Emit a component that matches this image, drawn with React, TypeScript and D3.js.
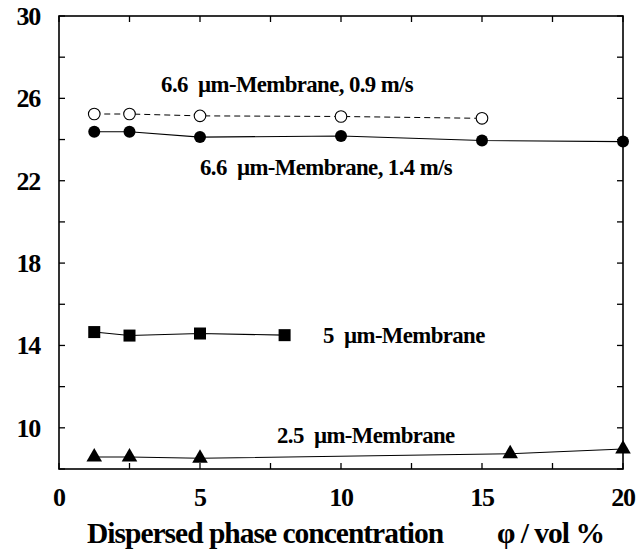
import { scaleLinear, line, symbol, symbolTriangle } from 'd3';

const xTicks = [0, 2.5, 5, 7.5, 10, 12.5, 15, 17.5, 20];
const xLabels = [0, 5, 10, 15, 20];
const yTicks = [8, 10, 12, 14, 16, 18, 20, 22, 24, 26, 28, 30];
const yLabels = [10, 14, 18, 22, 26, 30];

const open09X = [1.25, 2.5, 5, 10, 15];
const open09Y = [25.24, 25.24, 25.15, 25.12, 25.03];

const filled14X = [1.25, 2.5, 5, 10, 15, 20];
const filled14Y = [24.38, 24.38, 24.12, 24.17, 23.95, 23.9];

const sq5X = [1.25, 2.5, 5, 8];
const sq5Y = [14.65, 14.48, 14.58, 14.5];

const tri25X = [1.25, 2.5, 5, 16, 20];
const tri25Y = [8.58, 8.58, 8.52, 8.74, 8.97];

const W = 636;
const H = 556;
const left = 59;
const right = 623;
const top = 16;
const bottom = 469;

const font = '"Liberation Serif", "Times New Roman", serif';

const zip = (xs: number[], ys: number[]) => xs.map((x, i) => ({ x, y: ys[i] }));

export default function App() {
  const x = scaleLinear().domain([0, 20]).range([left, right]);
  const y = scaleLinear().domain([8, 30]).range([bottom, top]);
  const path = line<{ x: number; y: number }>()
    .x((d) => x(d.x))
    .y((d) => y(d.y));
  const tri = symbol().type(symbolTriangle).size(105)();

  const open = zip(open09X, open09Y);
  const filled = zip(filled14X, filled14Y);
  const squares = zip(sq5X, sq5Y);
  const triangles = zip(tri25X, tri25Y);

  const tickLen = 6;

  return (
    <svg width={W} height={H} style={{ position: 'absolute', left: 0, top: 0, background: '#fff' }} fontFamily={font}>
      {/* frame */}
      <rect x={left} y={top} width={right - left} height={bottom - top} fill="none" stroke="#000" strokeWidth={1.6} />
      {xTicks.map((t) => (
        <g key={'xt' + t}>
          <line x1={x(t)} x2={x(t)} y1={bottom} y2={bottom - tickLen} stroke="#000" strokeWidth={1.3} />
          <line x1={x(t)} x2={x(t)} y1={top} y2={top + tickLen} stroke="#000" strokeWidth={1.3} />
        </g>
      ))}
      {yTicks.map((t) => (
        <g key={'yt' + t}>
          <line x1={left} x2={left + tickLen} y1={y(t)} y2={y(t)} stroke="#000" strokeWidth={1.3} />
          <line x1={right} x2={right - tickLen} y1={y(t)} y2={y(t)} stroke="#000" strokeWidth={1.3} />
        </g>
      ))}
      <g fontFamily={font} fontSize={26} fontWeight="bold" letterSpacing={-1.2}>
        {xLabels.map((t) => (
          <text key={'xl' + t} x={x(t)} y={bottom + 37} textAnchor="middle">
            {t}
          </text>
        ))}
        {yLabels.map((t) => (
          <text key={'yl' + t} x={40} y={y(t) + 9} textAnchor="end">
            {t}
          </text>
        ))}
      </g>

      {/* series */}
      <path d={path(open) || ''} fill="none" stroke="#000" strokeWidth={1} strokeDasharray="6,4" />
      <path d={path(filled) || ''} fill="none" stroke="#000" strokeWidth={1.1} />
      <path d={path(squares) || ''} fill="none" stroke="#000" strokeWidth={1.1} />
      <path d={path(triangles) || ''} fill="none" stroke="#000" strokeWidth={1.1} />

      {open.map((d, i) => (
        <circle key={'o' + i} cx={x(d.x)} cy={y(d.y)} r={5.8} fill="#fff" stroke="#000" strokeWidth={1.1} />
      ))}
      {filled.map((d, i) => (
        <circle key={'f' + i} cx={x(d.x)} cy={y(d.y)} r={6} fill="#000" />
      ))}
      {squares.map((d, i) => (
        <rect key={'s' + i} x={x(d.x) - 6} y={y(d.y) - 6} width={12} height={12} fill="#000" />
      ))}
      {triangles.map((d, i) => (
        <path key={'t' + i} d={tri || ''} transform={`translate(${x(d.x)},${y(d.y)})`} fill="#000" />
      ))}

      {/* annotations */}
      <g fontSize={22.8} fontWeight="bold" letterSpacing={-0.6}>
        <text x={x(3.62)} y={y(26.3)}>6.6 {'\u00a0'}µm-Membrane, 0.9 m/s</text>
        <text x={x(5)} y={y(22.27)}>6.6 {'\u00a0'}µm-Membrane, 1.4 m/s</text>
        <text x={x(9.36)} y={y(14.12)}>5 {'\u00a0'}µm-Membrane</text>
        <text x={x(7.73)} y={y(9.26)}>2.5 {'\u00a0'}µm-Membrane</text>
      </g>

      {/* axis title */}
      <g fontSize={29.5} fontWeight="bold" letterSpacing={-1}>
        <text x={87} y={543}>Dispersed phase concentration</text>
        <text x={497} y={543}>φ / vol %</text>
      </g>
    </svg>
  );
}
